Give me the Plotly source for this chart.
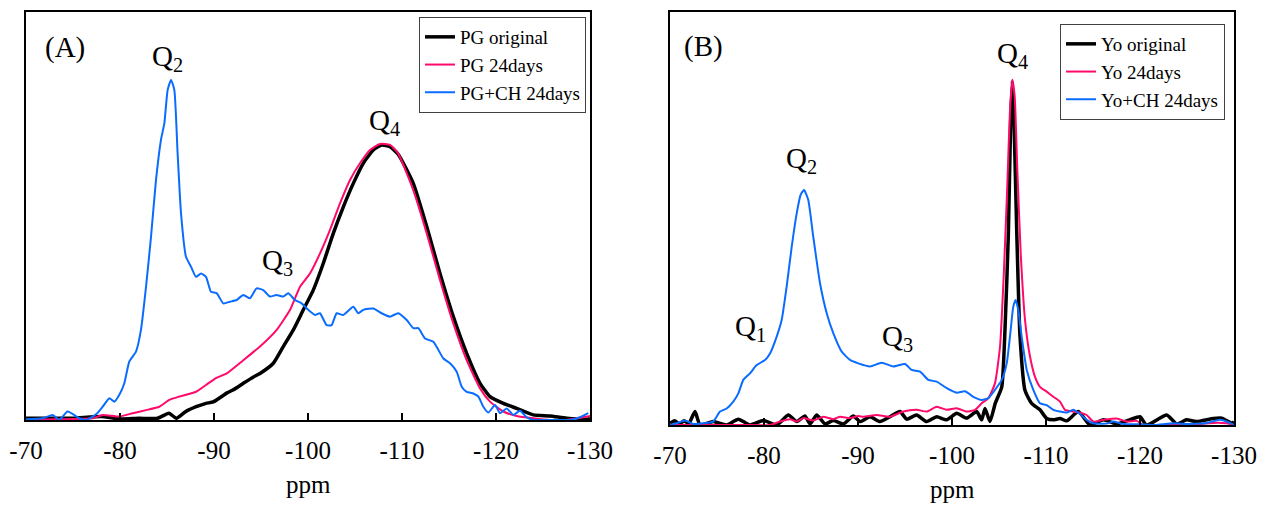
import plotly.graph_objects as go

# ---------------- Panel A (PG) ----------------
pg_orig_x = [-70, -72, -75, -78, -80, -82, -84, -85.2, -86, -87.0, -88.1, -89.15, -89.9, -91.35, -92.0, -93.12,
             -94.15, -94.89, -96.31, -97.37, -98.44, -99.5, -100.56, -101.63, -102.69, -103.76, -104.82, -105.88,
             -106.95, -107.84, -108.72, -109.61, -111.2, -112.63, -114.04, -115.46, -116.88, -118.3, -119.36,
             -120.78, -122.2, -123.97, -125.74, -127.52, -129.65, -130]
pg_orig_y = [0.005, 0.005, 0.005, 0.01, 0.003, 0.005, 0.005, 0.02, 0.005, 0.025, 0.039, 0.049, 0.053, 0.079, 0.088,
             0.108, 0.126, 0.137, 0.167, 0.216, 0.265, 0.324, 0.382, 0.461, 0.549, 0.627, 0.696, 0.755, 0.794, 0.809,
             0.804, 0.781, 0.696, 0.569, 0.431, 0.304, 0.196, 0.108, 0.069, 0.049, 0.034, 0.015, 0.012, 0.005, 0.002,
             0.005]

pg_24_x = [-70, -73, -77.09, -78.16, -79.93, -81.35, -82.77, -84.18, -85.25, -86.31, -88.09, -89.15, -90.21,
           -91.35, -93.12, -94.89, -96.67, -98.09, -99.15, -100.21, -101.28, -102.34, -103.4, -104.47, -105.53,
           -106.6, -107.66, -108.72, -109.57, -111.2, -112.63, -114.04, -115.46, -116.88, -118.3, -119.36, -120.78,
           -122.2, -123.97, -125.74, -127.52, -129.65, -130]
pg_24_y = [0.0, 0.002, 0.005, 0.015, 0.01, 0.02, 0.029, 0.039, 0.059, 0.069, 0.083, 0.103, 0.123, 0.137, 0.176,
           0.216, 0.265, 0.324, 0.392, 0.431, 0.49, 0.559, 0.637, 0.706, 0.755, 0.794, 0.812, 0.809, 0.785, 0.676,
           0.549, 0.412, 0.284, 0.176, 0.093, 0.054, 0.025, 0.012, 0.005, 0.0, 0.0, 0.01, 0.012]

pg_ch_x = [-70, -71.77, -72.84, -73.55, -74.43, -75.67, -76.38, -77.09, -77.62, -78.16, -78.87, -79.40, -79.93,
           -80.46, -80.99, -81.70, -82.23, -82.77, -83.30, -83.83, -84.36, -84.72, -85.07, -85.43, -85.78, -86.13,
           -86.49, -87.02, -87.55, -88.09, -88.62, -89.15, -89.68,
           -90.28, -90.99, -91.70, -92.41, -93.12, -93.83, -94.53, -95.24, -95.95, -96.66, -97.37, -97.90, -98.61,
           -99.32, -100.03, -100.74, -101.27, -101.98, -102.51, -103.05, -103.75, -104.82, -105.35, -105.88,
           -106.95, -107.83, -108.72, -109.6,
           -110.50, -111.21, -111.74, -112.45, -113.34, -113.87, -114.40, -115.11, -115.82, -116.35, -116.88,
           -117.59, -118.12, -118.65, -119.19, -119.90, -120.43, -121.14, -121.84, -122.55, -123.26, -123.97,
           -125.04, -126.45, -127.87, -128.94, -129.82]
pg_ch_y = [0.002, 0.005, 0.015, 0.0, 0.025, 0.005, 0.0, 0.01, 0.021, 0.039, 0.064, 0.054, 0.074, 0.108, 0.172,
           0.201, 0.265, 0.392, 0.539, 0.706, 0.824, 0.873, 0.971, 1.0, 0.971, 0.784, 0.608, 0.480, 0.451, 0.421,
           0.431, 0.421, 0.377,
           0.373, 0.343, 0.348, 0.353, 0.368, 0.358, 0.387, 0.382, 0.363, 0.368, 0.363, 0.373, 0.353, 0.343, 0.324,
           0.309, 0.314, 0.279, 0.279, 0.314, 0.309, 0.333, 0.314, 0.324, 0.328, 0.314, 0.304, 0.314,
           0.294, 0.270, 0.270, 0.240, 0.230, 0.206, 0.181, 0.167, 0.142, 0.098, 0.083, 0.078, 0.069, 0.039, 0.022,
           0.044, 0.020, 0.034, 0.015, 0.027, 0.008, 0.0, 0.0, 0.0, 0.0, 0.008, 0.02]

# ---------------- Panel B (Yo) ----------------
yo_orig_x = [-70, -70.5, -71.0, -71.5, -72.0, -72.66, -73.2, -74.6, -76.0, -77.27, -78.5, -79.93, -81.35, -82.59,
             -83.5, -84.36, -84.9, -85.6, -86.5, -87.37, -88.44, -89.5, -90.21, -91.28, -92.34, -93.4, -94.47,
             -95.18, -96.24, -97.3, -98.37, -99.43, -100.5, -101.56, -102.62, -103.16, -103.51, -104.04, -104.6,
             -105.29, -105.64, -105.99, -106.24, -106.42, -106.6, -106.88, -107.23, -107.77, -108.47, -109.36,
             -110.07, -110.78, -111.49, -112.2, -113.44, -114.68, -116.1, -117.5, -118.9, -120.0, -120.7, -122.84,
             -123.9, -124.95, -126.0, -127.8, -128.7, -129.8, -130]
yo_orig_y = [0.005, 0.012, 0.003, 0.012, 0.004, 0.039, 0.0, 0.01, 0.0, 0.017, 0.0, 0.013, 0.0, 0.029, 0.01, 0.026,
             0.003, 0.029, 0.003, 0.013, 0.003, 0.026, 0.01, 0.024, 0.01, 0.024, 0.039, 0.017, 0.029, 0.01, 0.024,
             0.015, 0.034, 0.02, 0.039, 0.015, 0.048, 0.01, 0.063, 0.11, 0.28, 0.55, 0.88, 1.0, 0.88, 0.57, 0.26,
             0.10, 0.063, 0.044, 0.019, 0.015, 0.019, 0.012, 0.039, 0.0, 0.015, 0.003, 0.015, 0.024, 0.0, 0.029,
             0.003, 0.015, 0.01, 0.019, 0.02, 0.005, 0.01]

yo_24_x = [-70, -74, -78, -80.64, -81.7, -82.77, -83.48, -84.18, -85.25, -86.31, -87.37, -88.09, -89.15, -90.03,
           -90.57, -91.99, -93.4, -94.82, -96.24, -97.3, -98.37, -99.43, -100.5, -101.56, -102.45, -103.16, -103.87,
           -104.57, -105.11, -105.53, -105.88, -106.17, -106.42, -106.67, -106.95, -107.31, -107.77, -108.3,
           -108.83, -109.36, -110.07, -110.78, -111.49, -112.02, -112.9, -113.62, -114.33, -115.03, -116.1,
           -117.52, -118.58, -119.65, -120.35, -122, -125, -127.8, -129.2, -130]
yo_24_y = [0.0, 0.0, 0.0, 0.0, 0.01, 0.017, 0.01, 0.02, 0.013, 0.024, 0.017, 0.024, 0.02, 0.026, 0.024, 0.029,
           0.024, 0.039, 0.044, 0.039, 0.053, 0.044, 0.049, 0.039, 0.044, 0.063, 0.078, 0.121, 0.228, 0.451, 0.693,
           0.916, 1.003, 0.954, 0.741, 0.499, 0.305, 0.199, 0.14, 0.111, 0.097, 0.082, 0.068, 0.044, 0.039, 0.036,
           0.029, 0.01, 0.015, 0.019, 0.01, 0.012, 0.0, 0.0, 0.0, 0.006, 0.005, 0.0]

yo_ch_x = [-70, -70.71, -71.6, -72.48, -73.55, -74.6, -75.32, -76.03, -76.73, -77.27, -77.8, -78.51, -79.22,
           -80.11, -80.64, -81.35, -81.88, -82.41, -82.95, -83.48, -83.9, -84.26, -84.71, -85.24, -85.96, -86.67,
           -87.37, -88.27, -89.15, -90.03, -91.28, -92.52, -93.76, -95.0, -95.71, -96.6, -97.48, -98.37, -99.44,
           -100.5, -101.38, -102.27, -103.16, -103.87, -104.57, -105.29, -105.82, -106.24, -106.52, -106.78,
           -107.05, -107.41, -107.95, -108.65, -109.36, -110.07, -110.78, -111.49, -112.2, -112.9, -113.62,
           -114.33, -115.03, -116.45, -117.16, -118.22, -120.0, -121.42, -123.54, -124.97, -126.38, -127.1,
           -128.51, -129.57, -130]
yo_ch_y = [0.0, 0.005, 0.013, 0.003, 0.005, 0.01, 0.039, 0.048, 0.068, 0.092, 0.131, 0.150, 0.174, 0.189, 0.208,
           0.257, 0.305, 0.402, 0.518, 0.615, 0.669, 0.683, 0.654, 0.547, 0.412, 0.325, 0.267, 0.213, 0.189, 0.179,
           0.17, 0.181, 0.17, 0.177, 0.16, 0.155, 0.131, 0.126, 0.107, 0.094, 0.098, 0.082, 0.073, 0.078, 0.102,
           0.131, 0.179, 0.276, 0.344, 0.363, 0.334, 0.257, 0.16, 0.102, 0.063, 0.058, 0.044, 0.039, 0.036, 0.044,
           0.032, 0.015, 0.005, 0.004, 0.01, 0.003, 0.002, 0.0, 0.005, 0.003, 0.004, 0.006, 0.015, 0.006, 0.0]

tick_vals = [-70, -80, -90, -100, -110, -120, -130]
tick_text = ["-70", "-80", "-90", "-100", "-110", "-120", "-130"]

BLACK = "#000000"
RED = "#FF0A6A"
BLUE = "#0A6CFF"
FONT = "Liberation Serif"

fig = go.Figure()


def add(x, y, name, color, width, xa, ya, leg):
    fig.add_trace(go.Scatter(x=x, y=y, mode="lines", name=name,
                             line=dict(color=color, width=width, shape="spline", smoothing=0.5),
                             xaxis=xa, yaxis=ya, legend=leg))


add(pg_orig_x, pg_orig_y, "PG original", BLACK, 3.5, "x", "y", "legend")
add(pg_24_x, pg_24_y, "PG 24days", RED, 2, "x", "y", "legend")
add(pg_ch_x, pg_ch_y, "PG+CH 24days", BLUE, 2, "x", "y", "legend")
add(yo_orig_x, yo_orig_y, "Yo original", BLACK, 3.5, "x2", "y2", "legend2")
add(yo_24_x, yo_24_y, "Yo 24days", RED, 2, "x2", "y2", "legend2")
add(yo_ch_x, yo_ch_y, "Yo+CH 24days", BLUE, 2, "x2", "y2", "legend2")

# The page body adds an 8px offset; size the figure to fill the remaining window.
OFF = 8
W, H = 1266 - OFF, 506 - OFF


def fx(px):
    return (px - OFF) / W


def fy(py):
    return 1 - (py - OFF) / H


def xax(domain, anchor):
    return dict(domain=domain, anchor=anchor, range=[-70, -130], tickmode="array", tickvals=tick_vals,
                ticktext=tick_text, ticks="inside", ticklen=7, tickwidth=1.5, tickcolor="black",
                showline=True, linecolor="black", linewidth=2, mirror=True, showgrid=False, zeroline=False,
                automargin=False, ticklabelstandoff=7, tickfont=dict(family=FONT, size=25, color="black"))


def yax(domain, anchor):
    return dict(domain=domain, anchor=anchor, range=[0, 1.2], showticklabels=False, ticks="",
                showline=True, linecolor="black", linewidth=2, mirror=True, showgrid=False, zeroline=False,
                automargin=False)


legend_common = dict(font=dict(family=FONT, size=19, color="black"), bgcolor="white", bordercolor="#404040",
                     borderwidth=1, xanchor="right", yanchor="top", tracegroupgap=0, itemwidth=30)

ann_font = dict(family=FONT, size=29, color="black")
annotations = [
    dict(text="(A)", x=-74.15, y=1.097, xref="x", yref="y"),
    dict(text="Q<sub>2</sub>", x=-85.1, y=1.065, xref="x", yref="y"),
    dict(text="Q<sub>3</sub>", x=-96.8, y=0.465, xref="x", yref="y"),
    dict(text="Q<sub>4</sub>", x=-108.1, y=0.876, xref="x", yref="y"),
    dict(text="(B)", x=-73.6, y=1.099, xref="x2", yref="y2"),
    dict(text="Q<sub>1</sub>", x=-78.6, y=0.282, xref="x2", yref="y2"),
    dict(text="Q<sub>2</sub>", x=-84.04, y=0.770, xref="x2", yref="y2"),
    dict(text="Q<sub>3</sub>", x=-94.15, y=0.253, xref="x2", yref="y2"),
    dict(text="Q<sub>4</sub>", x=-106.4, y=1.076, xref="x2", yref="y2"),
]
for a in annotations:
    a.update(showarrow=False, font=ann_font, xanchor="center", yanchor="middle")

annotations.append(dict(text="ppm", x=fx(308), y=fy(484), xref="paper", yref="paper", showarrow=False,
                        font=dict(family=FONT, size=25, color="black"), xanchor="center", yanchor="middle"))
annotations.append(dict(text="ppm", x=fx(952), y=fy(489), xref="paper", yref="paper", showarrow=False,
                        font=dict(family=FONT, size=25, color="black"), xanchor="center", yanchor="middle"))

fig.update_layout(
    width=W, height=H, margin=dict(l=0, r=0, t=0, b=0, autoexpand=False),
    paper_bgcolor="white", plot_bgcolor="white",
    font=dict(family=FONT, color="black"),
    xaxis=xax([fx(26), fx(590)], "y"),
    yaxis=yax([fy(420), fy(12)], "x"),
    xaxis2=xax([fx(670), fx(1234)], "y2"),
    yaxis2=yax([fy(425), fy(12)], "x2"),
    legend=dict(x=fx(586), y=fy(17), **legend_common),
    legend2=dict(x=fx(1225), y=fy(24), **legend_common),
    annotations=annotations,
    showlegend=True,
)

fig.write_html("out.html")
